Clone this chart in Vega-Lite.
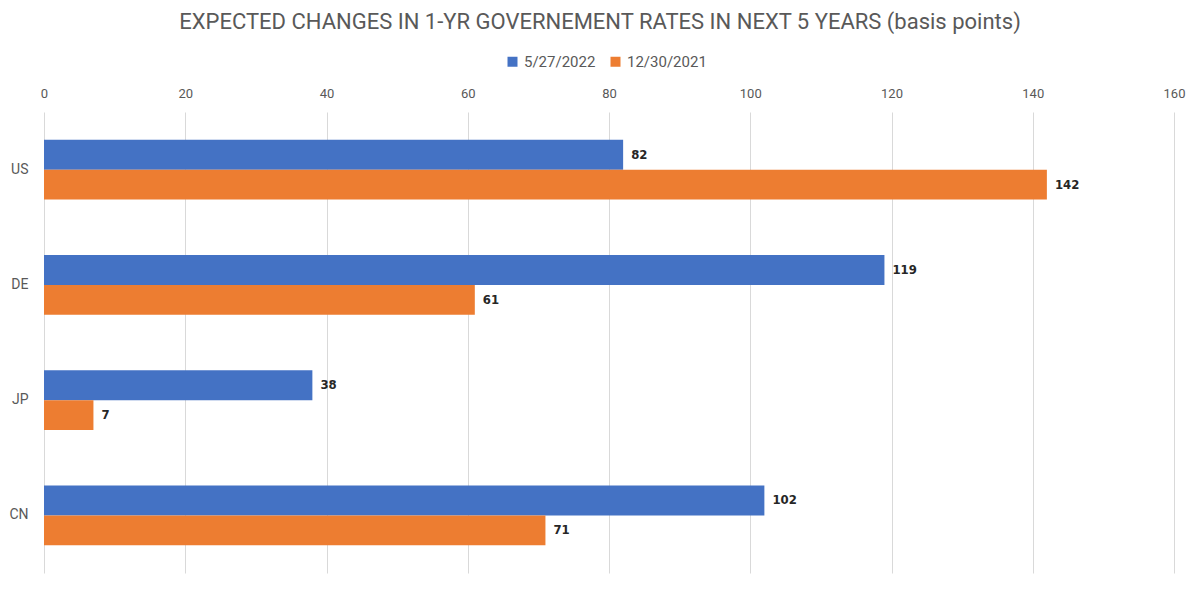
{
  "$schema": "https://vega.github.io/schema/vega-lite/v6.json",
  "width": 1130,
  "height": 461,
  "autosize": "none",
  "padding": {"left": 44, "top": 112, "right": 26, "bottom": 16},
  "background": "white",
  "config": {"view": {"stroke": null}},
  "title": {
    "text": "EXPECTED CHANGES IN 1-YR GOVERNEMENT RATES IN NEXT 5 YEARS (basis points)",
    "font": "Roboto",
    "fontSize": 22,
    "fontWeight": "normal",
    "color": "#595959",
    "anchor": "middle",
    "dx": -9,
    "offset": 20
  },
  "data": {
    "values": [
      {"country": "US", "date": "5/27/2022", "value": 82},
      {"country": "US", "date": "12/30/2021", "value": 142},
      {"country": "DE", "date": "5/27/2022", "value": 119},
      {"country": "DE", "date": "12/30/2021", "value": 61},
      {"country": "JP", "date": "5/27/2022", "value": 38},
      {"country": "JP", "date": "12/30/2021", "value": 7},
      {"country": "CN", "date": "5/27/2022", "value": 102},
      {"country": "CN", "date": "12/30/2021", "value": 71}
    ]
  },
  "encoding": {
    "y": {
      "field": "country",
      "type": "nominal",
      "sort": ["US", "DE", "JP", "CN"],
      "scale": {"paddingInner": 0.48, "paddingOuter": 0.24},
      "axis": {
        "title": null,
        "domain": false,
        "ticks": false,
        "labelPadding": 16,
        "labelFont": "Roboto",
        "labelFontSize": 14,
        "labelColor": "#595959"
      }
    },
    "yOffset": {
      "field": "date",
      "type": "nominal",
      "sort": ["5/27/2022", "12/30/2021"],
      "scale": {"paddingInner": 0, "paddingOuter": 0}
    },
    "x": {
      "field": "value",
      "type": "quantitative",
      "scale": {"domain": [0, 160], "nice": false},
      "axis": {
        "orient": "top",
        "title": null,
        "values": [0, 20, 40, 60, 80, 100, 120, 140, 160],
        "domain": false,
        "ticks": false,
        "labelFlush": false,
        "labelPadding": 12,
        "labelFont": "Roboto",
        "labelFontSize": 13,
        "labelColor": "#595959",
        "grid": true,
        "gridColor": "#d9d9d9",
        "gridWidth": 1
      }
    }
  },
  "layer": [
    {
      "mark": {"type": "bar"},
      "encoding": {
        "color": {
          "field": "date",
          "type": "nominal",
          "sort": ["5/27/2022", "12/30/2021"],
          "scale": {"domain": ["5/27/2022", "12/30/2021"], "range": ["#4472C4", "#ED7D31"]},
          "legend": {
            "title": null,
            "orient": "none",
            "direction": "horizontal",
            "legendX": 461,
            "legendY": -58,
            "symbolType": "square",
            "symbolSize": 100,
            "symbolStrokeWidth": 0,
            "labelFont": "Roboto",
            "labelFontSize": 15,
            "labelColor": "#595959",
            "labelOffset": 4,
            "columnPadding": 12
          }
        }
      }
    },
    {
      "mark": {
        "type": "text",
        "align": "left",
        "baseline": "middle",
        "dx": 8,
        "font": "DejaVu Sans Condensed, Roboto",
        "fontWeight": "bold",
        "fontSize": 13,
        "color": "#262626"
      },
      "encoding": {
        "text": {"field": "value", "type": "quantitative"}
      }
    }
  ]
}
